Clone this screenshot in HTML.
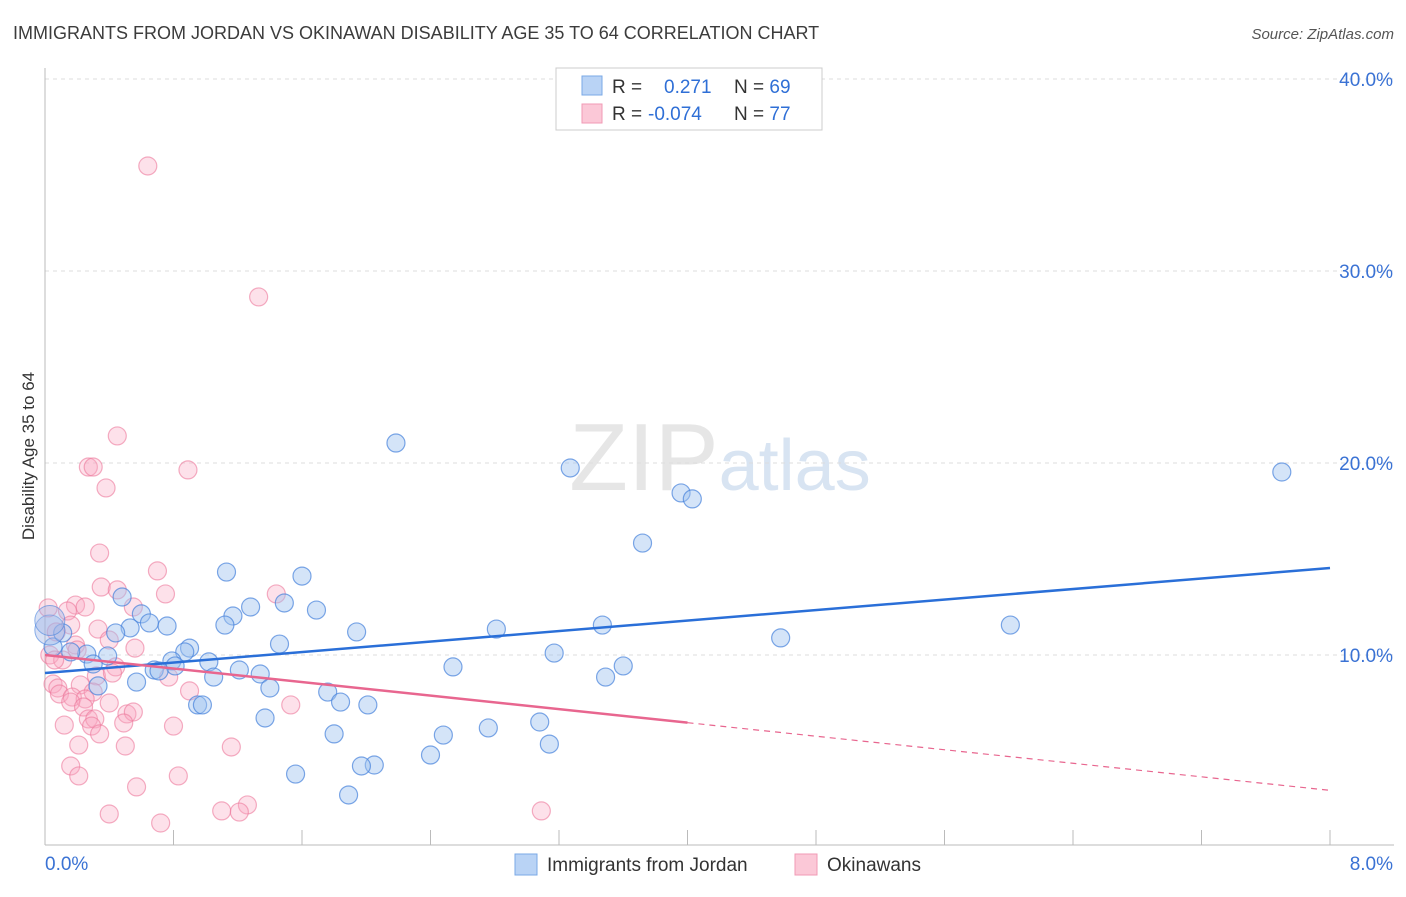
<!DOCTYPE html>
<html><head><meta charset="utf-8"><style>
body{margin:0;background:#fff;font-family:"Liberation Sans",sans-serif}
svg text{font-family:"Liberation Sans",sans-serif}
</style></head><body>
<svg id="chart" width="1406" height="892" xmlns="http://www.w3.org/2000/svg">
<text x="13" y="39" font-size="18" fill="#3c3c3c">IMMIGRANTS FROM JORDAN VS OKINAWAN DISABILITY AGE 35 TO 64 CORRELATION CHART</text>
<text x="1394" y="39" font-size="15" fill="#555" text-anchor="end" font-style="italic">Source: ZipAtlas.com</text>
<text x="720" y="490" font-size="96" text-anchor="middle" fill="#e6e6e6" font-family="Liberation Serif">ZIP<tspan fill="#d8e4f2" font-family="Liberation Sans" font-size="72">atlas</tspan></text>
<text transform="translate(34,456) rotate(-90)" font-size="17" fill="#333" text-anchor="middle">Disability Age 35 to 64</text>
<g id="grid"></g><g id="pts"></g><g id="lines"></g>
<g>
<rect x="556" y="68" width="266" height="62" fill="#fff" stroke="#ccc"/>
<rect x="582" y="76" width="20" height="19" fill="#b9d3f5" stroke="#7aa8e6"/>
<rect x="582" y="104" width="20" height="19" fill="#fbc8d7" stroke="#f09ab4"/>
<text x="612" y="93" font-size="19" fill="#333">R = <tspan fill="#2f6fd6" x="664">0.271</tspan><tspan x="734" fill="#333">N = </tspan><tspan fill="#2f6fd6">69</tspan></text>
<text x="612" y="120" font-size="19" fill="#333">R = <tspan fill="#2f6fd6" x="648">-0.074</tspan><tspan x="734" fill="#333">N = </tspan><tspan fill="#2f6fd6">77</tspan></text>
</g>
<g>
<rect x="515" y="854" width="22" height="21" fill="#b9d3f5" stroke="#7aa8e6"/>
<text x="547" y="871" font-size="19" fill="#333">Immigrants from Jordan</text>
<rect x="795" y="854" width="22" height="21" fill="#fbc8d7" stroke="#f09ab4"/>
<text x="827" y="871" font-size="19" fill="#333">Okinawans</text>
</g>
</svg>
<script>
const yTicks=[10,20,30,40];
const xTickLabels=["0.0%","8.0%"];
const blueX=[2.185,3.27,3.96,4.03,7.70,3.72,1.13,1.60,0.48,0.60,1.28,1.49,1.69,1.17,0.65,0.76,0.53,0.44,1.12,1.94,2.81,3.47,6.01,4.58,1.46,0.90,0.87,0.39,0.26,0.16,0.05,3.17,0.79,1.02,0.81,0.30,0.68,0.71,1.21,1.34,2.54,3.60,3.49,1.05,0.57,0.33,1.40,1.76,1.84,2.01,0.95,0.98,1.37,3.08,2.76,1.80,2.48,3.14,2.40,2.05,1.97,1.56,1.89,0.11];
const blueY=[21.04,19.74,18.44,18.13,19.53,15.83,14.32,14.11,13.02,12.14,12.50,12.71,12.34,12.03,11.67,11.51,11.41,11.15,11.56,11.20,11.35,11.56,11.56,10.89,10.57,10.36,10.16,9.95,10.05,10.16,10.42,10.10,9.69,9.64,9.43,9.53,9.22,9.17,9.22,9.01,9.38,9.43,8.85,8.85,8.59,8.39,8.28,8.07,7.55,7.40,7.40,7.40,6.72,6.51,6.20,5.89,5.83,5.36,4.79,4.27,4.22,3.80,2.71,11.15];
const blueBigX=[0.03,0.03];
const blueBigY=[11.3,11.8];
const pinkX=[0.64,1.33,0.45,0.27,0.30,0.89,0.38,0.34,0.70,0.35,0.45,0.75,1.44,0.02,0.19,0.25,0.55,0.14,0.16,0.33,0.07,0.40,0.19,0.56,0.20,0.03,0.11,0.06,0.44,0.32,0.42,0.77,0.05,0.08,0.22,0.30,0.09,0.90,0.17,0.25,0.16,0.40,0.24,1.53,0.51,0.55,0.27,0.31,0.49,0.12,0.80,0.29,0.34,0.21,0.50,1.16,0.16,0.21,0.83,0.57,1.26,1.10,1.21,0.40,3.09,0.72];
const pinkY=[35.47,28.65,21.41,19.79,19.79,19.64,18.70,15.31,14.38,13.54,13.39,13.18,13.18,12.45,12.60,12.50,12.50,12.29,11.56,11.35,11.20,10.78,10.52,10.36,10.26,10.0,9.74,9.74,9.38,8.91,9.06,8.85,8.49,8.28,8.44,8.07,7.97,8.13,7.81,7.71,7.55,7.50,7.29,7.40,6.93,7.03,6.67,6.67,6.46,6.35,6.30,6.30,5.89,5.31,5.26,5.21,4.22,3.70,3.70,3.13,2.19,1.88,1.82,1.72,1.88,1.25];
const blueTrend=[9.06,14.53];
const pinkTrend=[10.0,2.95];
const NS="http://www.w3.org/2000/svg";
const X=v=>45+v/8*1285, Y=v=>847-v*19.2;
function mk(t,a,p){const e=document.createElementNS(NS,t);for(const k in a)e.setAttribute(k,a[k]);p.appendChild(e);return e;}
const g=document.getElementById('grid');
yTicks.forEach(t=>{
 const l=mk('line',{x1:45,x2:1394,y1:Y(t),y2:Y(t),stroke:'#ddd','stroke-dasharray':'4,4'},g);
 
 
 const tx=mk('text',{x:1393,y:Y(t)+7,'font-size':19,fill:'#3a72d4','text-anchor':'end'},g);
 tx.textContent=t.toFixed(1)+'%';
 
 
});
const ax=mk('line',{x1:45,x2:45,y1:68,y2:845,stroke:'#bbb'},g);


const bx=mk('line',{x1:45,x2:1394,y1:845,y2:845,stroke:'#bbb'},g);


for(let i=1;i<=10;i++){const t=mk('line',{x1:X(i*0.8),x2:X(i*0.8),y1:830,y2:845,stroke:'#bbb'},g);
 
 }
[[0,xTickLabels[0],'start',45],[8,xTickLabels[1],'end',1393]].forEach(([v,s,a,px])=>{
 const t=mk('text',{x:px,y:870,'font-size':19,fill:'#3a72d4','text-anchor':a},g);t.textContent=s;
 
 });
const P=document.getElementById('pts');
pinkX.forEach((x,i)=>{const c=mk('circle',{cx:X(x),cy:Y(pinkY[i]),r:9,fill:'rgba(248,170,195,0.35)',stroke:'rgba(236,120,155,0.6)','stroke-width':1.2},P);
 
 });
blueX.forEach((x,i)=>{const c=mk('circle',{cx:X(x),cy:Y(blueY[i]),r:9,fill:'rgba(160,195,240,0.45)',stroke:'rgba(70,130,220,0.7)','stroke-width':1.2},P);
 
 });
blueBigX.forEach((x,i)=>{const c=mk('circle',{cx:X(x),cy:Y(blueBigY[i]),r:15,fill:'rgba(160,180,230,0.4)',stroke:'rgba(70,130,220,0.6)'},P);
 
 });
const L=document.getElementById('lines');
const bl=mk('line',{x1:X(0),y1:Y(blueTrend[0]),x2:X(8),y2:Y(blueTrend[1]),stroke:'#2a6fd8','stroke-width':2.5},L);


const pm=pinkTrend[0]+(pinkTrend[1]-pinkTrend[0])*0.5;
const p1=mk('line',{x1:X(0),y1:Y(pinkTrend[0]),x2:X(4),y2:Y(pm),stroke:'#e8668f','stroke-width':2.5},L);


const p2=mk('line',{x1:X(4),y1:Y(pm),x2:X(8),y2:Y(pinkTrend[1]),stroke:'#e8668f','stroke-width':1.2,'stroke-dasharray':'6,5'},L);


</script>
</body></html>
